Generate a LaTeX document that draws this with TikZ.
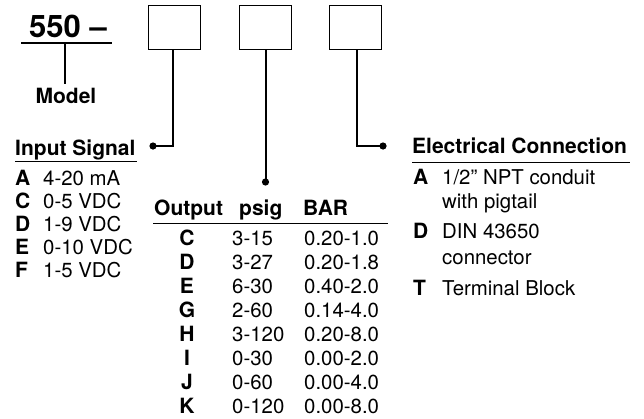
\documentclass[tikz,border=0pt]{standalone}
\usepackage{fontspec}
\setmainfont{TeX Gyre Heros}
\begin{document}
\begin{tikzpicture}[x=1pt,y=-1pt,
  bold/.style={font=\bfseries\fontsize{21}{22}\selectfont, inner sep=0pt},
  reg/.style={font=\fontsize{20.4}{22}\selectfont, inner sep=0pt},
  codebox/.style={draw, line width=1pt, minimum width=52pt, minimum height=44pt, inner sep=0pt},
  conn/.style={line width=2pt},
  rule/.style={line width=1pt},
  dotmark/.style={fill=black}
]
\useasboundingbox (0,0) rectangle (644,418);

% model
\node[anchor=base west, font=\bfseries\fontsize{31}{33}\selectfont, inner sep=0pt] (m550) at (29,37) {550 –};
\coordinate (mulL) at (21,43);
\coordinate (mulR) at (112,43);
\draw[line width=2.2pt] (mulL) -- (mulR);
\node[bold, anchor=base] (model) at (66,103) {Model};
\coordinate (mtop) at (65,43);
\coordinate (mbot) at (65,84);
\draw[conn] (mtop) -- (mbot);

% boxes
\node[codebox] (b1) at (174,27) {};
\node[codebox] (b2) at (265.5,27) {};
\node[codebox] (b3) at (355,27) {};

\coordinate (d1) at (153,146);
\coordinate (d2) at (265.5,182);
\coordinate (d3) at (383,146);
\coordinate (k1) at (173,146);
\coordinate (k3) at (357,146);
\draw[conn] ([xshift=-1pt]b1.south) -- (k1) -- (d1);
\draw[conn] (b2.south) -- (d2);
\draw[conn] ([xshift=2pt]b3.south) -- (k3) -- (d3);
\fill[dotmark] (d1) circle (3.6);
\fill[dotmark] (d2) circle (3.6);
\fill[dotmark] (d3) circle (3.6);

% input signal
\node[bold, anchor=base west] (inhead) at (15,155) {Input Signal};
\coordinate (inulL) at (15,161);
\coordinate (inulR) at (137,161);
\draw[rule] (inulL) -- (inulR);
\foreach \l/\t [count=\i from 0] in {A/4-20 mA, C/0-5 VDC, D/1-9 VDC, E/0-10 VDC, F/1-5 VDC}{
  \node[bold, anchor=base west] (inL\i) at (15,185+23*\i) {\l};
  \node[reg, anchor=base west] (inT\i) at (43,185+23*\i) {\t};
}

% electrical connection
\node[bold, anchor=base west] (elhead) at (412,153) {Electrical Connection};
\coordinate (elulL) at (412,162);
\coordinate (elulR) at (630,162);
\draw[rule] (elulL) -- (elulR);
\node[bold, anchor=base west] (elA) at (413,184) {A};
\node[reg, anchor=base west] (elAt) at (442,184) {1/2” NPT conduit};
\node[reg, anchor=base west] (elAt2) at (442,208) {with pigtail};
\node[bold, anchor=base west] (elD) at (413,238) {D};
\node[reg, anchor=base west] (elDt) at (442,238) {DIN 43650};
\node[reg, anchor=base west] (elDt2) at (442,264) {connector};
\node[bold, anchor=base west] (elT) at (413,295) {T};
\node[reg, anchor=base west] (elTt) at (442,295) {Terminal Block};

% output table
\node[bold, anchor=base west] (thO) at (154,215) {Output};
\node[bold, anchor=base west] (thP) at (239,215) {psig};
\node[bold, anchor=base west] (thB) at (303,215) {BAR};
\coordinate (tulL) at (153,223);
\coordinate (tulR) at (388,223);
\draw[rule] (tulL) -- (tulR);
\foreach \l/\p/\b [count=\i from 0] in {C/3-15/0.20-1.0, D/3-27/0.20-1.8, E/6-30/0.40-2.0, G/2-60/0.14-4.0, H/3-120/0.20-8.0, I/0-30/0.00-2.0, J/0-60/0.00-4.0, K/0-120/0.00-8.0}{
  \node[bold, anchor=base] (oL\i) at (187,245+24*\i) {\l};
  \node[reg, anchor=base west] (oP\i) at (232,245+24*\i) {\p};
  \node[reg, anchor=base west] (oB\i) at (304,245+24*\i) {\b};
}
\end{tikzpicture}
\end{document}
